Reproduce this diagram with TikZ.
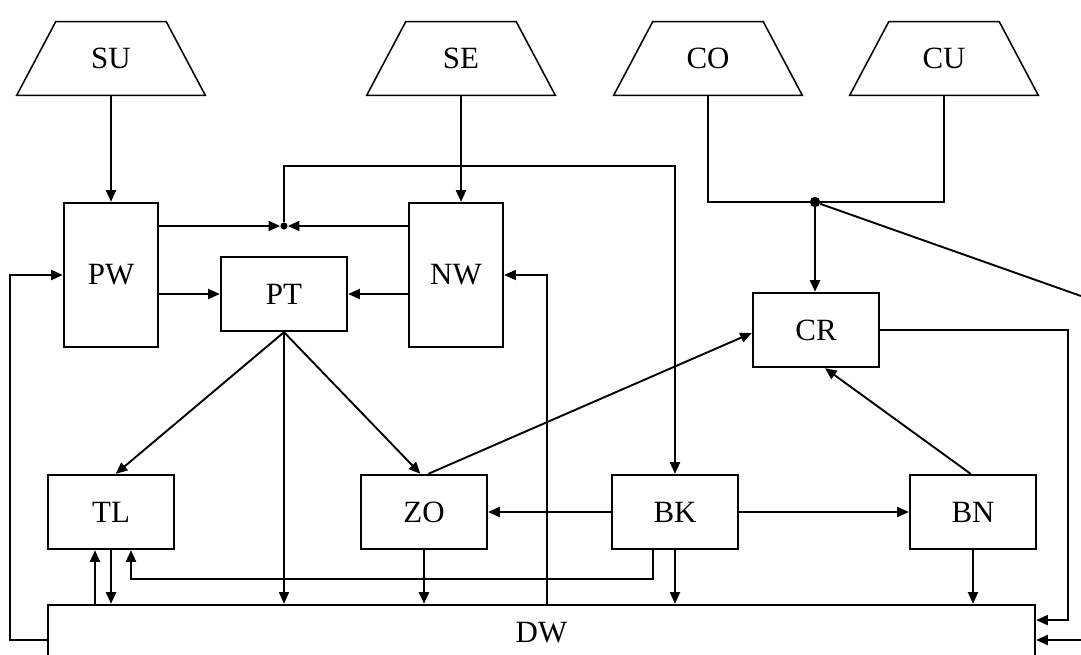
\documentclass[tikz,border=0pt]{standalone}
\usepackage{fontspec}
\setmainfont{Liberation Serif}
\usetikzlibrary{arrows.meta,positioning,shapes.geometric,calc}
\tikzset{
  source/.style={minimum width=47mm,minimum height=18.25mm,inner sep=0pt,
    font=\fontsize{22}{26}\selectfont},
  sourceline/.style={line width=1.1pt,line join=miter},
  block/.style={draw,line width=1.7pt,minimum width=31.5mm,minimum height=18.5mm,
    inner sep=0pt,font=\fontsize{22}{26}\selectfont},
  tallblock/.style={block,minimum width=23.5mm,minimum height=36mm},
  store/.style={block,minimum width=246.75mm,minimum height=13.75mm},
  arrow/.style={-{Triangle[length=2.9mm,width=2.5mm]},line width=1.35pt},
  thinarrow/.style={arrow,line width=0.9pt},
  link/.style={line width=1.35pt},
  junction/.style={circle,fill,inner sep=0pt,minimum size=#1},
  junction/.default=1.8mm
}
\begin{document}
\begin{tikzpicture}[x=0.25mm,y=-0.25mm]
\useasboundingbox (0,0) rectangle (1081,655);

\node[source] (su) at (111,58.5) {SU};
\node[source] (se) at (461,58.5) {SE};
\node[source] (co) at (708,58.5) {CO};
\node[source] (cu) at (944,58.5) {CU};
\foreach \n in {su,se,co,cu}
  \draw[sourceline] (\n.south west) -- (\n.south east) -- ([xshift=-9.75mm]\n.north east)
    -- ([xshift=9.75mm]\n.north west) -- cycle;

\node[tallblock] (pw) at (111,275) {PW};
\node[block] (pt) at (284,294) {PT};
\node[tallblock] (nw) at (456,275) {NW};
\node[block] (cr) at (816,330) {CR};

\node[block] (tl) at (111,512) {TL};
\node[block] (zo) at (424,512) {ZO};
\node[block] (bk) at (675,512) {BK};
\node[block] (bn) at (973,512) {BN};
\node[store] (dw) at (541.5,632.5) {DW};

\node[junction] (mix) at (284,226) {};
\node[junction=2.6mm] (hub) at (815,202) {};
\coordinate (offr) at (1081,296);
\coordinate (inr) at (1081,640);

% sources
\draw[arrow] (su.south) -- (pw.north);
\draw[arrow] (se.south) -- (se.south |- nw.north);
\draw[link] (co.south) |- (hub);
\draw[link] (cu.south) |- (hub);
\draw[arrow] (hub) -- (hub |- cr.north);
\draw[link] (hub) -- (offr);

% upper part
\draw[arrow] (pw.east |- mix) -- (mix);
\draw[arrow] (nw.west |- mix) -- (mix);
\draw[arrow] (mix) -- ++(0,-60) -| (bk.north);
\draw[arrow] (pw.east |- pt) -- (pt.west);
\draw[arrow] (nw.west |- pt) -- (pt.east);
\draw[arrow] (pt.south) -- ([xshift=1.2mm]tl.north);
\draw[arrow] (pt.south) -- ([xshift=-0.9mm]zo.north);
\draw[thinarrow] (pt.south) -- (pt.south |- dw.north);
\draw[arrow] ([xshift=1.1mm]zo.north) -- ([yshift=-0.75mm]cr.west);
\draw[arrow] ([xshift=-0.6mm]bn.north) -- ([xshift=2.25mm]cr.south);

% lower part
\draw[arrow] (bk.west) -- (zo.east);
\draw[arrow] (bk.east) -- (bn.west);
\draw[arrow] ([xshift=-5.5mm]bk.south) -- ++(0,29) -| ([xshift=5mm]tl.south);
\draw[arrow] (tl.south) -- (tl.south |- dw.north);
\draw[arrow] ([xshift=-4mm]tl.south |- dw.north) -- ([xshift=-4mm]tl.south);
\draw[arrow] (zo.south) -- (zo.south |- dw.north);
\draw[arrow] (bk.south) -- (bk.south |- dw.north);
\draw[arrow] (bn.south) -- (bn.south |- dw.north);

% returns
\draw[arrow] ([yshift=-1.9mm]dw.west) -- ++(-37,0) |- (pw.west);
\draw[thinarrow] ([xshift=1.4mm]dw.north) |- (nw.east);
\draw[arrow] (cr.east) -- ++(188,0) |- ([yshift=3.1mm]dw.east);
\draw[arrow] (inr) -- (inr -| dw.east);
\end{tikzpicture}
\end{document}
